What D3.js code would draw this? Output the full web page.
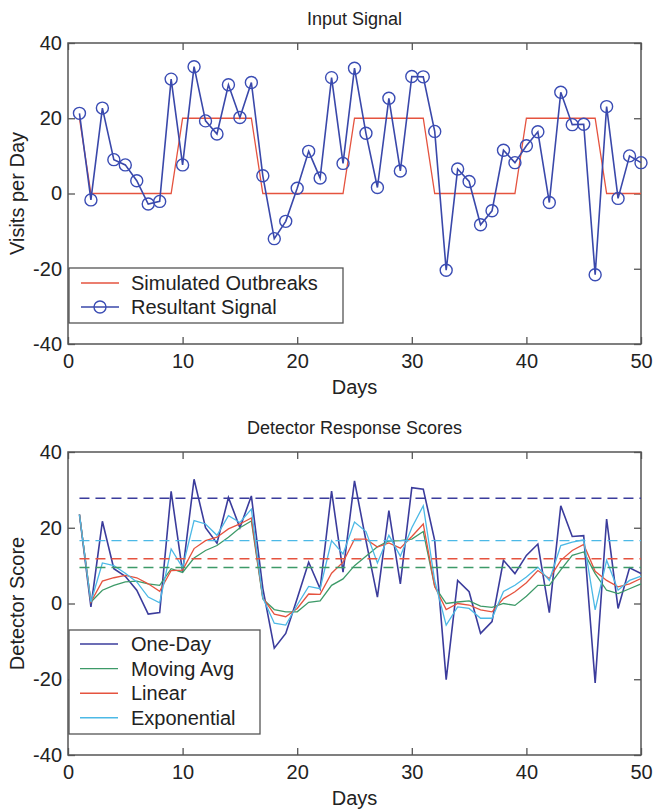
<!DOCTYPE html>
<html>
<head>
<meta charset="utf-8">
<script src="https://cdn.jsdelivr.net/npm/d3@7"></script>
<style>
  body { margin: 0; background: #fff; }
  svg { font-family: "Liberation Sans", Arial, sans-serif; }
  .tick text { font-size: 20px; fill: #222; }
  .tick line { stroke: #555; stroke-width: 1.3; }
</style>
</head>
<body>
<svg width="654" height="811"></svg>
<script>
// --- data ---
var days = d3.range(1, 51);

var outbreaks = [20, 0, 0, 0, 0, 0, 0, 0, 0, 20, 20, 20, 20, 20, 20, 20, 0, 0, 0, 0, 0, 0, 0, 0,
  20, 20, 20, 20, 20, 20, 20, 0, 0, 0, 0, 0, 0, 0, 0, 20, 20, 20, 20, 20, 20, 20, 0, 0, 0, 0];

var signal = [21.3, -1.7, 22.7, 9.0, 7.6, 3.4, -2.8, -2.1, 30.4, 7.6, 33.7, 19.3, 15.8, 28.9, 20.2,
  29.5, 4.7, -12, -7.4, 1.4, 11.2, 4.1, 30.8, 8.0, 33.3, 16.0, 1.6, 25.3, 6.0, 31.1, 31.0, 16.5,
  -20.4, 6.5, 3.2, -8.3, -4.6, 11.5, 8.2, 12.7, 16.4, -2.4, 26.9, 18.3, 18.4, -21.6, 23.1, -1.3, 10.0, 8.2];

var oneDay = [23.5, -0.9, 21.7, 9.2, 7.2, 3.5, -2.8, -2.4, 29.6, 8.3, 32.8, 20, 15.9, 28, 20, 28.4,
  4, -11.8, -7.9, 1.3, 10.9, 3.9, 29.7, 8.3, 32.4, 16.6, 1.7, 24.5, 5.2, 30.6, 30.2, 16.6, -20.1,
  6.1, 3.1, -7.9, -4.8, 11.4, 7.9, 12.7, 15.7, -2.4, 25.8, 17.7, 17.9, -21, 22.3, -1.3, 9.4, 7.9];

var movingAvg = [23.5, 0.4, 3.5, 4.8, 5.7, 5.9, 5.2, 4.8, 9.2, 8.2, 12, 14, 15.3, 17.5, 20, 21.8,
  1.2, -1.6, -2.2, -2.2, 0.3, 0.7, 4.8, 6.5, 10, 12.5, 15, 16.5, 16.6, 17, 19, 4.5, 0, 0.4, 0.7,
  -0.7, -1, 0, -0.5, 1.9, 4.8, 4.8, 8.9, 12.7, 13.6, 7.9, 3.5, 2.6, 3.9, 5.2];

var linear = [23.5, 0.4, 5.9, 6.8, 7.4, 6.8, 5.2, 3.2, 8.7, 8.8, 14.5, 16.6, 17.5, 19.7, 21, 22.6,
  1.5, -2.8, -3.5, -1.3, 2.5, 2.4, 8, 10.9, 17, 17, 14.9, 16, 14.6, 17.7, 21, 4.5, -1.6, 0, -0.4,
  -1.7, -2.2, 1.3, 3.1, 5.5, 8.7, 6.6, 11.4, 14, 15.6, 8.5, 6.1, 4.4, 5.2, 6.6];

var exponential = [23.5, 0.4, 10.7, 10, 8, 5.7, 1.7, 0.2, 14.4, 9.5, 21.9, 21, 18, 23.2, 21.4, 24.9,
  1.5, -5.2, -5.7, -0.4, 4.5, 3.9, 16.6, 13.1, 21.5, 19, 10.7, 18, 12.5, 20, 25.8, 6, -5.7, -0.9,
  -1.3, -3.9, -3.9, 3.2, 4.8, 7, 9.6, 6.1, 15.3, 16.2, 16.8, -1.7, 11.4, 3.5, 6.1, 7.2];

var detectorNames = ["One-Day", "Moving Avg", "Linear", "Exponential"];
var detectorSeries = [oneDay, movingAvg, linear, exponential];
var thresholds = [27.8, 9.5, 11.8, 16.6];
var detectorColors = ["#3b3c9c", "#3d9a68", "#e5533f", "#4cb9e6"];

var xTicks = [0, 10, 20, 30, 40, 50];
var yTicks = [-40, -20, 0, 20, 40];

// --- layout ---
var svg = d3.select("svg");
var left = 68, right = 641;
var panels = [
  { top: 43, bottom: 344, title: "Input Signal", ylabel: "Visits per Day" },
  { top: 452, bottom: 755, title: "Detector Response Scores", ylabel: "Detector Score" }
];

var x = d3.scaleLinear().domain([0, 50]).range([left, right]);
var plain = function (d) { return String(d); }; // matlab style hyphen minus

function drawFrame(p) {
  var y = d3.scaleLinear().domain([-40, 40]).range([p.bottom, p.top]);
  var g = svg.append("g");

  g.append("g").attr("transform", "translate(0," + p.bottom + ")")
    .call(d3.axisBottom(x).tickValues(xTicks).tickFormat(plain).tickSizeInner(-7).tickSizeOuter(0).tickPadding(10))
    .call(function (s) { s.select(".domain").remove(); });
  g.append("g").attr("transform", "translate(0," + p.top + ")")
    .call(d3.axisTop(x).tickValues(xTicks).tickSizeInner(-7).tickSizeOuter(0).tickFormat(""))
    .call(function (s) { s.select(".domain").remove(); });
  g.append("g").attr("transform", "translate(" + left + ",0)")
    .call(d3.axisLeft(y).tickValues(yTicks).tickFormat(plain).tickSizeInner(-7).tickSizeOuter(0).tickPadding(6))
    .call(function (s) { s.select(".domain").remove(); });
  g.append("g").attr("transform", "translate(" + right + ",0)")
    .call(d3.axisRight(y).tickValues(yTicks).tickSizeInner(-7).tickSizeOuter(0).tickFormat(""))
    .call(function (s) { s.select(".domain").remove(); });

  g.selectAll(".tick text").attr("font-family", null);

  g.append("rect")
    .attr("x", left).attr("y", p.top)
    .attr("width", right - left).attr("height", p.bottom - p.top)
    .attr("fill", "none").attr("stroke", "#555").attr("stroke-width", 1.5);

  svg.append("text")
    .attr("x", (left + right) / 2).attr("y", p.top - 18)
    .attr("text-anchor", "middle").attr("font-size", 18).attr("fill", "#222")
    .text(p.title);
  svg.append("text")
    .attr("x", (left + right) / 2).attr("y", p.bottom + 50)
    .attr("text-anchor", "middle").attr("font-size", 20).attr("fill", "#222")
    .text("Days");
  svg.append("text")
    .attr("transform", "translate(24," + (p.top + p.bottom) / 2 + ") rotate(-90)")
    .attr("text-anchor", "middle").attr("font-size", 20).attr("fill", "#222")
    .text(p.ylabel);
  return y;
}

// --- top: input signal ---
var y1 = drawFrame(panels[0]);
var line1 = d3.line().x(function (d, i) { return x(days[i]); }).y(function (d) { return y1(d); });

svg.append("path").datum(outbreaks)
  .attr("d", line1).attr("fill", "none").attr("stroke", "#e5533f").attr("stroke-width", 1.3);
svg.append("path").datum(signal)
  .attr("d", line1).attr("fill", "none").attr("stroke", "#3a48aa").attr("stroke-width", 1.6);
svg.selectAll(".mark").data(signal).enter().append("circle")
  .attr("class", "mark")
  .attr("cx", function (d, i) { return x(days[i]); })
  .attr("cy", function (d) { return y1(d); })
  .attr("r", 6).attr("fill", "none").attr("stroke", "#3a4cb4").attr("stroke-width", 1.4);

// legend top
var lg1 = svg.append("g");
lg1.append("rect").attr("x", left + 1).attr("y", 268).attr("width", 274).attr("height", 55)
  .attr("fill", "#fff").attr("stroke", "#555").attr("stroke-width", 1.3);
lg1.append("line").attr("x1", 81).attr("x2", 119).attr("y1", 283).attr("y2", 283)
  .attr("stroke", "#e5533f").attr("stroke-width", 1.3);
lg1.append("line").attr("x1", 81).attr("x2", 119).attr("y1", 307).attr("y2", 307)
  .attr("stroke", "#3a48aa").attr("stroke-width", 1.6);
lg1.append("circle").attr("cx", 100).attr("cy", 307).attr("r", 6)
  .attr("fill", "none").attr("stroke", "#3a4cb4").attr("stroke-width", 1.4);
lg1.append("text").attr("x", 131).attr("y", 290).attr("font-size", 20).attr("fill", "#222").text("Simulated Outbreaks");
lg1.append("text").attr("x", 131).attr("y", 314).attr("font-size", 20).attr("fill", "#222").text("Resultant Signal");

// --- bottom: detector scores ---
var y2 = drawFrame(panels[1]);
var line2 = d3.line().x(function (d, i) { return x(days[i]); }).y(function (d) { return y2(d); });

detectorSeries.forEach(function (s, k) {
  svg.append("path").datum(s)
    .attr("d", line2).attr("fill", "none")
    .attr("stroke", detectorColors[k]).attr("stroke-width", k === 0 ? 1.6 : 1.3);
});
thresholds.forEach(function (t, k) {
  svg.append("line")
    .attr("x1", x(1)).attr("x2", x(50)).attr("y1", y2(t)).attr("y2", y2(t))
    .attr("stroke", detectorColors[k]).attr("stroke-width", 1.4)
    .attr("stroke-dasharray", "10,6");
});

var lg2 = svg.append("g");
lg2.append("rect").attr("x", left + 1).attr("y", 630).attr("width", 191).attr("height", 104)
  .attr("fill", "#fff").attr("stroke", "#555").attr("stroke-width", 1.3);
detectorNames.forEach(function (n, k) {
  var yy = 644 + k * 24.6;
  lg2.append("line").attr("x1", 80).attr("x2", 118).attr("y1", yy).attr("y2", yy)
    .attr("stroke", detectorColors[k]).attr("stroke-width", 1.4);
  lg2.append("text").attr("x", 131).attr("y", yy + 7).attr("font-size", 20).attr("fill", "#222").text(n);
});
</script>
</body>
</html>
